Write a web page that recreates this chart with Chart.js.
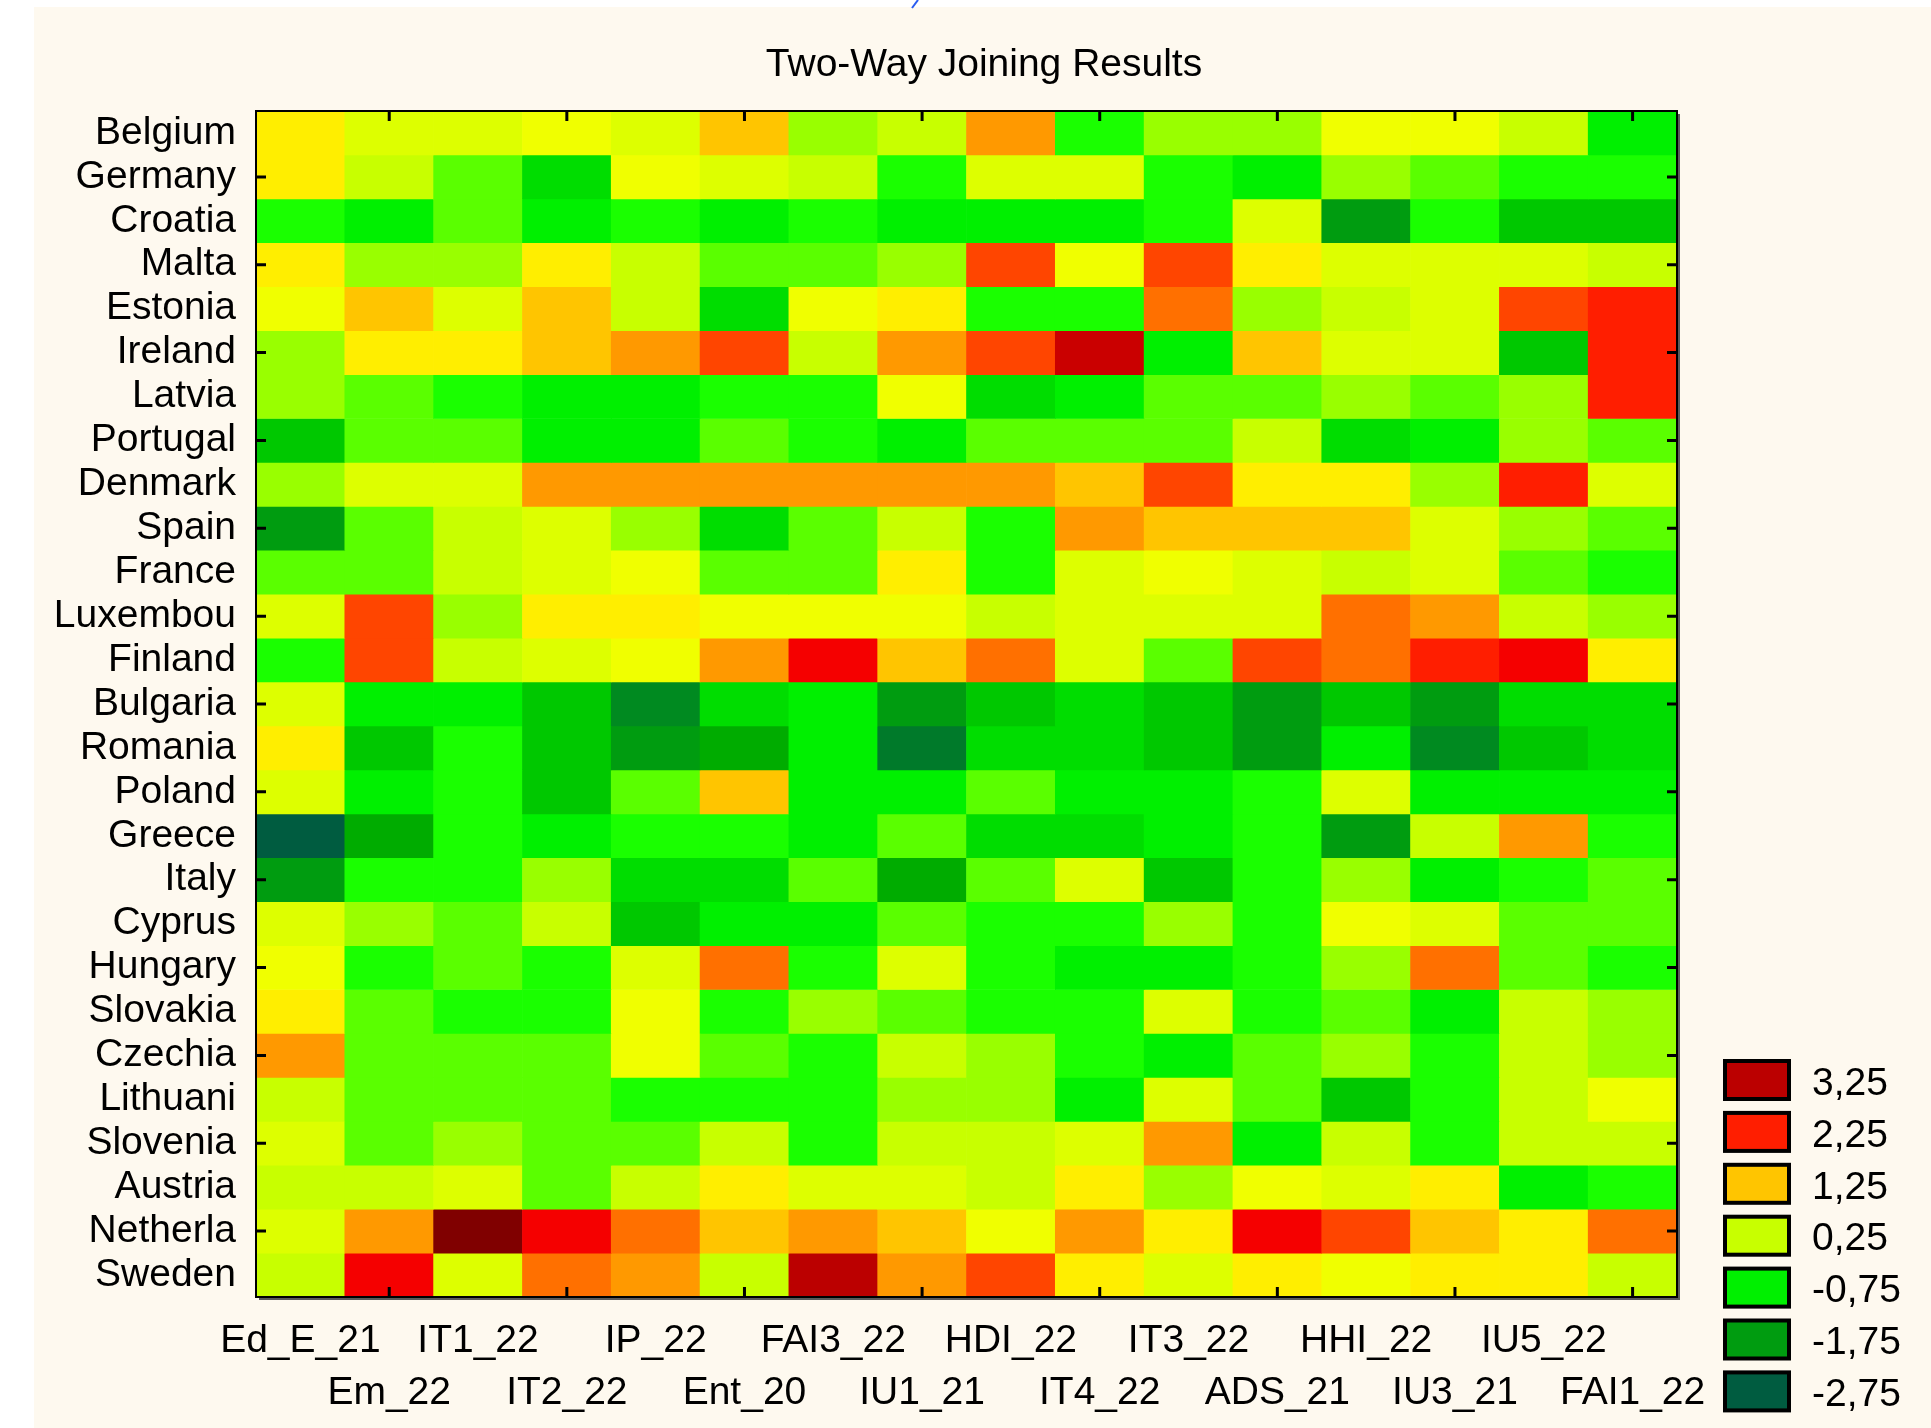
<!DOCTYPE html>
<html>
<head>
<meta charset="utf-8">
<title>Two-Way Joining Results</title>
<script src="https://cdn.jsdelivr.net/npm/chart.js@4.4.1/dist/chart.umd.min.js"></script>
<style>
  html, body { margin: 0; padding: 0; background: #ffffff; }
  canvas { display: block; }
</style>
</head>
<body>
<canvas id="chart" width="1931" height="1428"></canvas>
<script>
// Row (country) and column (indicator) labels, top to bottom / left to right
const countries = ['Belgium', 'Germany', 'Croatia', 'Malta', 'Estonia', 'Ireland', 'Latvia',
  'Portugal', 'Denmark', 'Spain', 'France', 'Luxembou', 'Finland', 'Bulgaria', 'Romania',
  'Poland', 'Greece', 'Italy', 'Cyprus', 'Hungary', 'Slovakia', 'Czechia', 'Lithuani',
  'Slovenia', 'Austria', 'Netherla', 'Sweden'];
const indicators = ['Ed_E_21', 'Em_22', 'IT1_22', 'IT2_22', 'IP_22', 'Ent_20', 'FAI3_22', 'IU1_21',
  'HDI_22', 'IT4_22', 'IT3_22', 'ADS_21', 'HHI_22', 'IU3_21', 'IU5_22', 'FAI1_22'];

// Standardized values, one array per country, in indicator order
const belgium  = [1.0, 0.5, 0.5, 0.75, 0.5, 1.25, 0, 0.25, 1.5, -0.5, 0, 0, 0.75, 0.75, 0.25, -0.75];
const germany  = [1.0, 0.25, -0.25, -1.0, 0.75, 0.5, 0.25, -0.5, 0.5, 0.5, -0.5, -0.75, 0, -0.25, -0.5, -0.5];
const croatia  = [-0.5, -0.75, -0.25, -0.75, -0.5, -0.75, -0.5, -0.75, -0.75, -0.75, -0.5, 0.5, -1.75, -0.5, -1.25, -1.25];
const malta    = [1.0, 0, 0, 1.0, 0.25, -0.25, -0.25, 0, 2.0, 0.75, 2.0, 1.0, 0.5, 0.5, 0.5, 0.25];
const estonia  = [0.75, 1.25, 0.5, 1.25, 0.25, -1.0, 0.75, 1.0, -0.5, -0.5, 1.75, 0, 0.25, 0.5, 2.0, 2.25];
const ireland  = [0, 1.0, 1.0, 1.25, 1.5, 2.0, 0.25, 1.5, 2.0, 3.0, -0.75, 1.25, 0.5, 0.5, -1.25, 2.25];
const latvia   = [0, -0.25, -0.5, -0.75, -0.75, -0.5, -0.5, 0.75, -1.0, -0.75, -0.25, -0.25, 0, -0.25, 0, 2.25];
const portugal = [-1.25, -0.25, -0.25, -0.75, -0.75, -0.25, -0.5, -0.75, -0.25, -0.25, -0.25, 0.25, -1.0, -0.75, 0, -0.25];
const denmark  = [0, 0.5, 0.5, 1.5, 1.5, 1.5, 1.5, 1.5, 1.5, 1.25, 2.0, 1.0, 1.0, 0, 2.25, 0.5];
const spain    = [-1.75, -0.25, 0.25, 0.5, 0, -1.0, -0.25, 0.25, -0.5, 1.5, 1.25, 1.25, 1.25, 0.5, 0, -0.25];
const france   = [-0.25, -0.25, 0.25, 0.5, 0.75, -0.25, -0.25, 1.0, -0.5, 0.5, 0.75, 0.5, 0.25, 0.5, -0.25, -0.5];
const luxembou = [0.5, 2.0, 0, 1.0, 1.0, 0.75, 0.75, 0.75, 0.25, 0.5, 0.5, 0.5, 1.75, 1.5, 0.25, 0];
const finland  = [-0.5, 2.0, 0.25, 0.5, 0.75, 1.5, 2.5, 1.25, 1.75, 0.5, -0.25, 2.0, 1.75, 2.25, 2.5, 1.0];
const bulgaria = [0.5, -0.75, -0.75, -1.25, -2.0, -1.0, -0.75, -1.75, -1.25, -1.0, -1.25, -1.75, -1.25, -1.75, -1.0, -1.0];
const romania  = [1.0, -1.25, -0.5, -1.25, -1.75, -1.5, -0.75, -2.25, -1.0, -1.0, -1.25, -1.75, -0.75, -2.0, -1.25, -1.0];
const poland   = [0.5, -0.75, -0.5, -1.25, -0.25, 1.25, -0.75, -0.75, -0.25, -0.75, -0.75, -0.5, 0.5, -0.75, -0.75, -0.75];
const greece   = [-2.75, -1.5, -0.5, -0.75, -0.5, -0.5, -0.75, -0.25, -1.0, -1.0, -0.75, -0.5, -1.75, 0.25, 1.5, -0.5];
const italy    = [-1.75, -0.5, -0.5, 0, -1.0, -1.0, -0.25, -1.5, -0.25, 0.5, -1.25, -0.5, 0, -0.75, -0.5, -0.25];
const cyprus   = [0.5, 0, -0.25, 0.25, -1.25, -0.75, -0.75, -0.25, -0.5, -0.5, 0, -0.5, 0.75, 0.5, -0.25, -0.25];
const hungary  = [0.75, -0.5, -0.25, -0.5, 0.5, 1.75, -0.5, 0.5, -0.5, -0.75, -0.75, -0.5, 0, 1.75, -0.25, -0.5];
const slovakia = [1.0, -0.25, -0.5, -0.5, 0.75, -0.5, 0, -0.25, -0.5, -0.5, 0.5, -0.5, -0.25, -0.75, 0.25, 0];
const czechia  = [1.5, -0.25, -0.25, -0.25, 0.75, -0.25, -0.5, 0.25, 0, -0.5, -0.75, -0.25, 0, -0.5, 0.25, 0];
const lithuani = [0.25, -0.25, -0.25, -0.25, -0.5, -0.5, -0.5, 0, 0, -0.75, 0.5, -0.25, -1.25, -0.5, 0.25, 0.75];
const slovenia = [0.5, -0.25, 0, -0.25, -0.25, 0.25, -0.5, 0.25, 0.25, 0.5, 1.5, -0.75, 0.25, -0.5, 0.25, 0.25];
const austria  = [0.25, 0.25, 0.5, -0.25, 0.25, 1.0, 0.5, 0.5, 0.25, 1.0, 0, 0.75, 0.5, 1.0, -0.75, -0.5];
const netherla = [0.5, 1.5, 3.75, 2.5, 1.75, 1.25, 1.5, 1.25, 0.75, 1.5, 1.0, 2.5, 2.0, 1.25, 1.0, 1.75];
const sweden   = [0.25, 2.5, 0.5, 1.75, 1.5, 0.25, 3.25, 1.5, 2.0, 1.0, 0.5, 1.0, 0.75, 1.0, 1.0, 0.25];

const rowValues = [belgium, germany, croatia, malta, estonia, ireland, latvia, portugal, denmark,
  spain, france, luxembou, finland, bulgaria, romania, poland, greece, italy, cyprus, hungary,
  slovakia, czechia, lithuani, slovenia, austria, netherla, sweden];

// Contour levels shown in the legend
const legendLevels = [3.25, 2.25, 1.25, 0.25, -0.75, -1.75, -2.75];

// Colour for each contour level (step 0.25)
const paletteLevels = [-2.75, -2.5, -2.25, -2.0, -1.75, -1.5, -1.25, -1.0, -0.75, -0.5, -0.25, 0,
  0.25, 0.5, 0.75, 1.0, 1.25, 1.5, 1.75, 2.0, 2.25, 2.5, 2.75, 3.0, 3.25, 3.5, 3.75];
const paletteColors = ['#005c40', '#006a38', '#007a2a', '#008a20', '#009c10', '#00ac00', '#00c800',
  '#00dd00', '#00f000', '#1aff00', '#5aff00', '#99ff00', '#c8ff00', '#ddff00', '#f0ff00', '#ffee00',
  '#ffc500', '#ff9900', '#ff7000', '#ff4500', '#ff1e00', '#f50000', '#e00000', '#ca0000', '#bb0000',
  '#9e0000', '#800000'];

function colorFor(v) {
  let best = 0;
  for (let i = 1; i < paletteLevels.length; i++) {
    if (Math.abs(paletteLevels[i] - v) < Math.abs(paletteLevels[best] - v)) best = i;
  }
  return paletteColors[best];
}

const FONT = "'Liberation Sans', Arial, Helvetica, sans-serif";
const CREAM = '#fef9ef';

// Page background: cream panel with a thin white margin on the top and left
const backgroundPlugin = {
  id: 'panelBackground',
  beforeDraw(chart) {
    const { ctx, width, height } = chart;
    ctx.save();
    ctx.fillStyle = '#ffffff';
    ctx.fillRect(0, 0, width, height);
    ctx.fillStyle = CREAM;
    ctx.fillRect(34, 7, width - 34, height - 7);
    ctx.strokeStyle = '#2a5cf0';
    ctx.lineWidth = 2;
    ctx.beginPath();
    ctx.moveTo(912, 8);
    ctx.lineTo(918, 0);
    ctx.stroke();
    ctx.restore();
  }
};

// Plot frame with inward tick marks on every other row / column
const framePlugin = {
  id: 'plotFrame',
  afterDatasetsDraw(chart) {
    const { ctx, chartArea: a, scales } = chart;
    ctx.save();
    // soft shadow along bottom and right edges
    ctx.fillStyle = '#5a5a5a';
    ctx.fillRect(a.left + 3, a.bottom + 1, a.right - a.left, 2);
    ctx.fillRect(a.right + 1, a.top + 3, 2, a.bottom - a.top);
    ctx.strokeStyle = '#000';
    ctx.lineWidth = 2;
    ctx.strokeRect(a.left, a.top, a.right - a.left, a.bottom - a.top);
    ctx.lineWidth = 3;
    const len = 10;
    ctx.beginPath();
    for (let i = 1; i < indicators.length; i += 2) {
      const x = scales.x.getPixelForValue(i);
      ctx.moveTo(x, a.top); ctx.lineTo(x, a.top + len);
      ctx.moveTo(x, a.bottom); ctx.lineTo(x, a.bottom - len);
    }
    for (let r = 1; r < countries.length; r += 2) {
      const y = scales.y.getPixelForValue(r + 0.5);
      ctx.moveTo(a.left, y); ctx.lineTo(a.left + len, y);
      ctx.moveTo(a.right, y); ctx.lineTo(a.right - len, y);
    }
    ctx.stroke();
    ctx.restore();
  }
};

// Centered title and the contour-level legend
const annotationPlugin = {
  id: 'titleAndLegend',
  afterDraw(chart) {
    const { ctx } = chart;
    ctx.save();
    ctx.fillStyle = '#000';
    ctx.font = '39px ' + FONT;
    ctx.textAlign = 'center';
    ctx.textBaseline = 'alphabetic';
    ctx.fillText('Two-Way Joining Results', 984, 76);

    const boxX = 1725, boxW = 64, boxH = 38, top0 = 1061, step = 51.9;
    ctx.textAlign = 'left';
    ctx.textBaseline = 'middle';
    legendLevels.forEach((lv, k) => {
      const y = top0 + k * step;
      ctx.fillStyle = colorFor(lv);
      ctx.fillRect(boxX, y, boxW, boxH);
      ctx.strokeStyle = '#000';
      ctx.lineWidth = 4;
      ctx.strokeRect(boxX, y, boxW, boxH);
      ctx.fillStyle = '#000';
      ctx.fillText(lv.toFixed(2).replace('.', ','), 1812, y + boxH / 2 + 4);
    });
    ctx.restore();
  }
};

const datasets = countries.map((name, r) => ({
  label: name,
  data: indicators.map(() => 1),
  backgroundColor: rowValues[r].map(colorFor),
  borderWidth: 0,
  barPercentage: 1,
  categoryPercentage: 1,
  stack: 'cells'
}));

new Chart(document.getElementById('chart'), {
  type: 'bar',
  data: { labels: indicators, datasets },
  options: {
    responsive: false,
    animation: false,
    events: [],
    layout: { padding: { left: 0, top: 111, right: 254, bottom: 0 } },
    plugins: { legend: { display: false }, tooltip: { enabled: false }, title: { display: false } },
    scales: {
      x: {
        type: 'category',
        stacked: true,
        offset: true,
        grid: { display: false, drawTicks: false },
        border: { display: false },
        ticks: {
          autoSkip: false, maxRotation: 0, minRotation: 0, padding: 18, color: '#000',
          font: { family: FONT, size: 39, lineHeight: '52px' },
          callback: (v, i) => (i % 2 ? ['', indicators[i]] : indicators[i])
        },
        afterFit: s => { s.height = 131; }
      },
      y: {
        type: 'linear',
        stacked: true,
        min: 0,
        max: countries.length,
        reverse: true,
        grid: { display: false, drawTicks: false },
        border: { display: false },
        afterBuildTicks: s => { s.ticks = countries.map((_, i) => ({ value: i + 0.5 })); },
        ticks: {
          autoSkip: false, padding: 20, color: '#000',
          font: { family: FONT, size: 39 },
          callback: (v, i) => countries[i]
        },
        afterFit: s => { s.width = 256; }
      }
    }
  },
  plugins: [backgroundPlugin, framePlugin, annotationPlugin]
});
</script>
</body>
</html>
